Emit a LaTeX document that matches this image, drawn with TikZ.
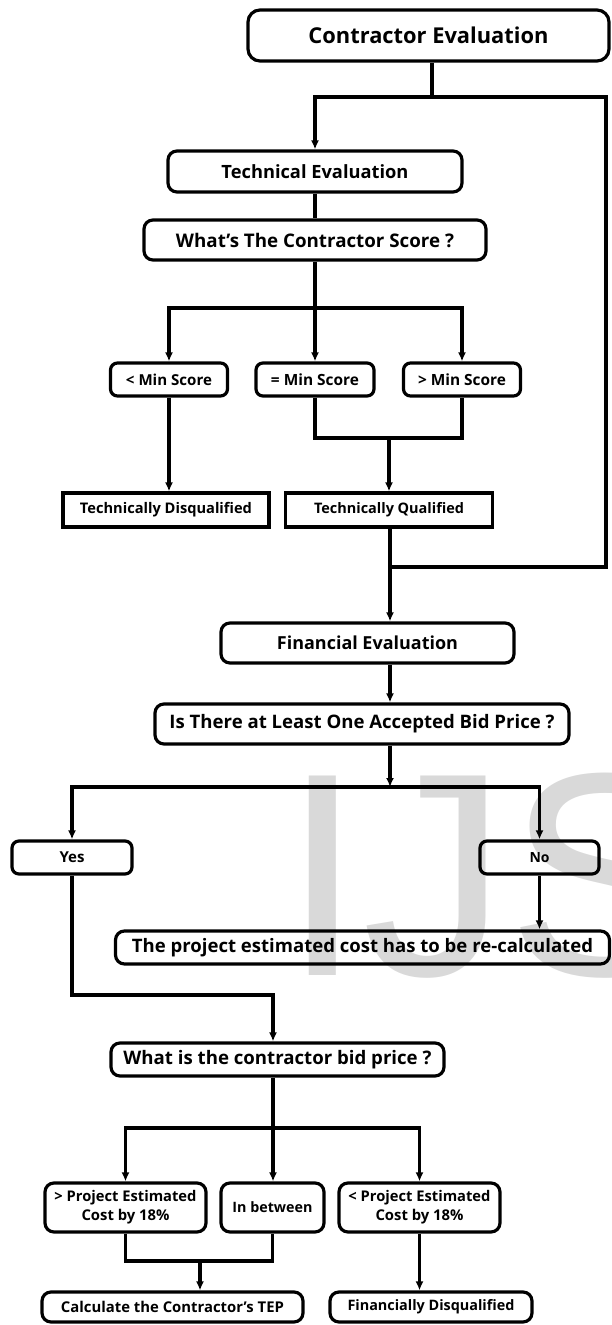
\documentclass[tikz,border=0pt]{standalone}
\usepackage{fontspec}
\usepackage{graphicx}
\setmainfont{Open Sans}
\newfontfamily\wmfont{Liberation Sans}
\usetikzlibrary{arrows.meta}
\newcommand\fitw[2]{\resizebox{#1pt}{!}{#2}}
\tikzset{
  box/.style={draw, line width=3.2pt, rounded corners=9pt, inner sep=0pt, align=center, font=\bfseries},
  sqbox/.style={draw, line width=3.2pt, inner sep=0pt, align=center, font=\bfseries},
  conn/.style={line width=3.4pt},
  arr/.style={line width=3.4pt, -{Latex[length=9pt,width=8pt]}},
}
\begin{document}
\begin{tikzpicture}[x=1pt,y=-1pt]
\useasboundingbox (0,0) rectangle (612,1325);
% watermark
\begin{scope}
\clip (0,0) rectangle (612,1325);
\node[anchor=base west, inner sep=0pt, text=black!15, font=\wmfont\fontsize{290}{290}\selectfont] (wm) at (282,975) {IJS};
\end{scope}
% nodes
\node[box, rounded corners=12pt, minimum width=361pt, minimum height=51pt] (ce) at (428.5,35.5) {\fitw{240}{Contractor Evaluation}};
\node[box, minimum width=294pt, minimum height=41pt] (te) at (315,171.5) {\fitw{187}{Technical Evaluation}};
\node[box, minimum width=342pt, minimum height=40pt] (cs) at (315,240) {\fitw{278}{What's The Contractor Score ?}};
\node[box, rounded corners=7pt, minimum width=117pt, minimum height=33pt] (lt) at (169,379.5) {\fitw{86}{< Min Score}};
\node[box, rounded corners=7pt, minimum width=118pt, minimum height=33pt] (eq) at (315,379.5) {\fitw{88}{= Min Score}};
\node[box, rounded corners=7pt, minimum width=117pt, minimum height=33pt] (gt) at (462,379.5) {\fitw{88}{> Min Score}};
\node[sqbox, minimum width=206pt, minimum height=34pt] (td) at (166,510) {\fitw{172}{Technically Disqualified}};
\node[sqbox, minimum width=207pt, minimum height=34pt] (tq) at (389,510) {\fitw{150}{Technically Qualified}};
\node[box, minimum width=293pt, minimum height=40pt] (fe) at (367.5,643) {\fitw{181}{Financial Evaluation}};
\node[box, minimum width=414pt, minimum height=40pt] (it) at (362,724) {\fitw{385}{Is There at Least One Accepted Bid Price ?}};
\node[box, rounded corners=7pt, minimum width=120pt, minimum height=33pt] (yes) at (72,857.5) {\fitw{25}{Yes}};
\node[box, rounded corners=7pt, minimum width=119pt, minimum height=33pt] (no) at (539.5,857.5) {\fitw{20}{No}};
\node[box, minimum width=494pt, minimum height=33pt] (pr) at (362.5,947.5) {\fitw{461}{The project estimated cost has to be re-calculated}};
\node[box, minimum width=333pt, minimum height=33pt] (wb) at (277.5,1059.5) {\fitw{308}{What is the contractor bid price ?}};
\node[box, font=\bfseries\fontsize{11}{19}\selectfont, minimum width=161pt, minimum height=49pt] (pe1) at (125.5,1207.5) {\fitw{142}{> Project Estimated}\\\fitw{88}{Cost by 18\%}};
\node[box, minimum width=103pt, minimum height=49pt] (ib) at (272.5,1207.5) {\fitw{80}{In between}};
\node[box, font=\bfseries\fontsize{11}{19}\selectfont, minimum width=161pt, minimum height=49pt] (pe2) at (419.5,1207.5) {\fitw{142}{< Project Estimated}\\\fitw{88}{Cost by 18\%}};
\node[box, minimum width=261pt, minimum height=30pt] (ct) at (172.5,1307) {\fitw{223}{Calculate the Contractor's TEP}};
\node[box, minimum width=202pt, minimum height=30pt] (fd) at (431,1307) {\fitw{167}{Financially Disqualified}};
% junction coordinates
\coordinate (j1) at (432,97);
\coordinate (jr) at (606,567);
\coordinate (m2) at (390,567);
\coordinate (j2) at (315,308);
\coordinate (j3) at (389,438);
\coordinate (j4) at (390,787);
\coordinate (j5) at (273,995);
\coordinate (j6) at (273,1128);
\coordinate (j7) at (200,1261);
% connectors
\draw[conn] (ce.south -| j1) -- (j1);
\draw[arr] (j1) -| (te.north);
\draw[conn] (j1) -| (jr) -- (m2);
\draw[conn, line width=4.2pt] (jr |- j1) -- (jr);
\draw[conn] (te) -- (cs);
\draw[conn] (cs.south) -- (j2);
\draw[arr] (j2) -| (lt.north);
\draw[arr] (j2) -- (eq.north);
\draw[arr] (j2) -| (gt.north);
\draw[arr] (lt.south) -- (lt.south |- td.north);
\draw[conn] (eq.south) |- (j3);
\draw[conn] (gt.south) |- (j3);
\draw[arr] (j3) -- (j3 |- tq.north);
\draw[arr] (tq.south -| m2) -- (m2) -- (fe.north -| m2);
\draw[arr] (fe.south -| m2) -- (it.north -| m2);
\draw[arr] (it.south -| m2) -- (j4);
\draw[arr] (j4) -| (yes.north);
\draw[arr] (j4) -| (no.north);
\draw[arr] (no.south) -- (no.south |- pr.north);
\draw[arr] (yes.south) |- (j5) -- (j5 |- wb.north);
\draw[conn] (wb.south -| j6) -- (j6);
\draw[arr] (j6) -- (ib.north -| j6);
\draw[arr] (j6) -| (pe1.north);
\draw[arr] (j6) -| (pe2.north);
\draw[conn] (pe1.south) |- (ib.south |- j7) -- (ib.south);
\draw[arr] (j7) -- (j7 |- ct.north);
\draw[arr] (pe2.south) -- (pe2.south |- fd.north);
\end{tikzpicture}
\end{document}
